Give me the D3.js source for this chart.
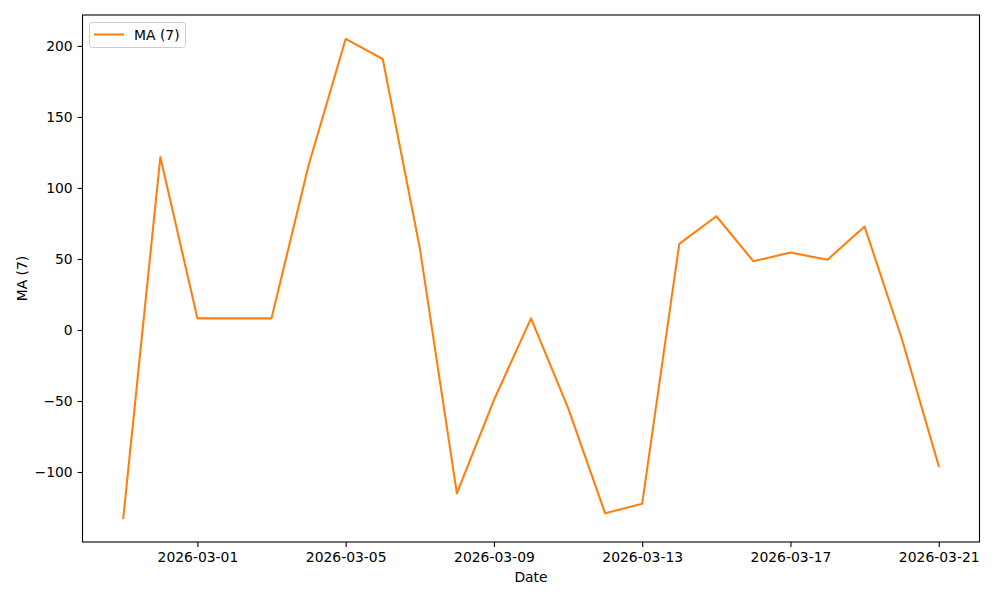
<!DOCTYPE html>
<html><head><meta charset="utf-8">
<script src="https://cdn.jsdelivr.net/npm/d3@7"></script>
<style>body{margin:0;background:#fff}svg{display:block}text{font-family:"DejaVu Sans",sans-serif}</style>
</head><body>
<script>
const dates = ["2026-02-27","2026-02-28","2026-03-01","2026-03-02","2026-03-03","2026-03-04","2026-03-05","2026-03-06","2026-03-07","2026-03-08","2026-03-09","2026-03-10","2026-03-11","2026-03-12","2026-03-13","2026-03-14","2026-03-15","2026-03-16","2026-03-17","2026-03-18","2026-03-19","2026-03-20","2026-03-21"];
const maValues = [-132.4,121.8,8.2,8.2,8.2,116,204.9,190.8,57.7,-115.0,-49.3,8.2,-54.9,-129.1,-122.3,60.6,80.1,48.4,54.5,49.5,72.8,-5.8,-95.8];
const xTickLabels = ["2026-03-01","2026-03-05","2026-03-09","2026-03-13","2026-03-17","2026-03-21"];
const yTicks = [-100,-50,0,50,100,150,200];
const seriesName = "MA (7)";

const W=1000,H=600, L=82.5, R=979.5, T=15, B=542;
const parse = d3.utcParse("%Y-%m-%d");
const data = dates.map((d,i)=>({date:parse(d), v:maValues[i]}));
const x0 = data[0].date.getTime(), x1 = data[data.length-1].date.getTime();
const xm = (x1-x0)*0.05;
const x = d3.scaleUtc().domain([new Date(x0-xm), new Date(x1+xm)]).range([L,R]);
const ymin = d3.min(maValues), ymax = d3.max(maValues), ym=(ymax-ymin)*0.05;
const y = d3.scaleLinear().domain([ymin-ym, ymax+ym]).range([B,T]);

const svg = d3.select("body").append("svg").attr("width",W).attr("height",H);
const fs = 13.9;
const fmtY = v => v<0 ? "\u2212"+Math.abs(v) : String(v);

const xa = svg.append("g").attr("transform",`translate(0,${B})`)
  .call(d3.axisBottom(x).tickValues(xTickLabels.map(parse)).tickFormat(d3.utcFormat("%Y-%m-%d")).tickSize(4.9).tickPadding(4.9).tickSizeOuter(0));
const ya = svg.append("g").attr("transform",`translate(${L},0)`)
  .call(d3.axisLeft(y).tickValues(yTicks).tickFormat(fmtY).tickSize(4.9).tickPadding(4.9).tickSizeOuter(0));
[xa,ya].forEach(g=>{
  g.select(".domain").remove();
  g.selectAll(".tick line").attr("stroke","#000").attr("stroke-width",1.1);
  g.selectAll(".tick text").attr("fill","#000").style("font-size",fs+"px").style("font-family","DejaVu Sans");
});

svg.append("path").datum(data)
  .attr("fill","none").attr("stroke","#ff7f0e").attr("stroke-width",2.08).attr("stroke-linejoin","round").attr("stroke-linecap","square")
  .attr("d", d3.line().x(d=>x(d.date)).y(d=>y(d.v)));

svg.append("rect").attr("x",L).attr("y",T).attr("width",R-L).attr("height",B-T)
  .attr("fill","none").attr("stroke","#000").attr("stroke-width",1.1);

svg.append("text").attr("x",(L+R)/2).attr("y",582).attr("text-anchor","middle").style("font-size",fs+"px").text("Date");
svg.append("text").attr("transform",`translate(27,${(T+B)/2}) rotate(-90)`).attr("text-anchor","middle").style("font-size",fs+"px").text(seriesName);

const lg = svg.append("g");
lg.append("rect").attr("x",89.5).attr("y",22.5).attr("width",96).attr("height",25).attr("rx",3)
  .attr("fill","#fff").attr("fill-opacity",0.8).attr("stroke","#ccc").attr("stroke-width",1);
lg.append("line").attr("x1",94).attr("x2",124).attr("y1",34.5).attr("y2",34.5).attr("stroke","#ff7f0e").attr("stroke-width",2.08);
lg.append("text").attr("x",134).attr("y",39.5).style("font-size",fs+"px").text(seriesName);
</script>
</body></html>
